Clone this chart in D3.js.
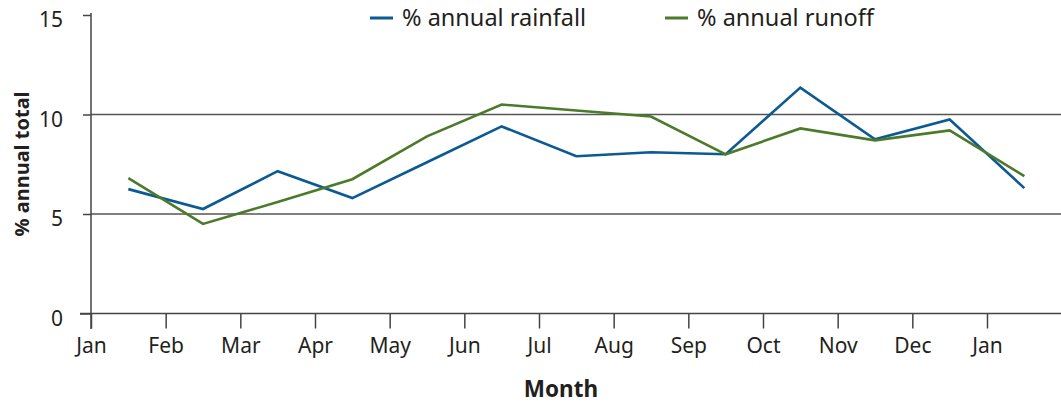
<!DOCTYPE html>
<html>
<head>
<meta charset="utf-8">
<script src="https://cdn.jsdelivr.net/npm/d3@7"></script>
<style>
  body { margin: 0; background: #fff; }
  text { font-family: "Noto Sans", sans-serif; fill: #231f20; }
</style>
</head>
<body>
<svg id="chart" width="1061" height="403"></svg>
<script>
// month tick labels (13 boundaries, Jan..Jan)
var months = ["Jan", "Feb", "Mar", "Apr", "May", "Jun", "Jul", "Aug", "Sep", "Oct", "Nov", "Dec", "Jan"];

// values plotted at the middle of each month
var rainfall = [6.25, 5.25, 7.15, 5.8, 7.6, 9.4, 7.9, 8.1, 8.0, 11.35, 8.75, 9.75, 6.3];
var runoff = [6.8, 4.5, 5.6, 6.75, 8.9, 10.5, 10.2, 9.9, 8.0, 9.3, 8.7, 9.2, 6.9];

var yTicks = [0, 5, 10, 15];
var gridValues = [5, 10];

var series = [
    { name: "% annual rainfall", values: rainfall, color: "#0b5a92" },
    { name: "% annual runoff", values: runoff, color: "#4b7a2b" }
];

var svg = d3.select("#chart");

var x = d3.scaleLinear().domain([0, 12]).range([91, 987]);
var y = d3.scaleLinear().domain([0, 15]).range([313.5, 15]);

// gridlines
svg.append("g").selectAll("line")
    .data(gridValues)
    .enter().append("line")
    .attr("x1", 91).attr("x2", 1061)
    .attr("y1", function(d) { return y(d); })
    .attr("y2", function(d) { return y(d); })
    .attr("stroke", "#555")
    .attr("stroke-width", 1.5);

// y axis
var yAxis = svg.append("g")
    .attr("transform", "translate(91,0)")
    .call(d3.axisLeft(y).tickValues(yTicks).tickSize(11).tickPadding(17));
yAxis.select(".domain").remove();
yAxis.append("line")
    .attr("x1", 0).attr("x2", 0)
    .attr("y1", 13).attr("y2", 329)
    .attr("stroke", "#444").attr("stroke-width", 1.5);
yAxis.selectAll(".tick line").attr("stroke", "#444").attr("stroke-width", 1.5);
yAxis.selectAll(".tick text")
    .attr("dy", "0.55em")
    .style("font-size", "21px")
    .style("font-family", "'Noto Sans', sans-serif")
    .attr("fill", "#231f20");
yAxis.selectAll(".tick").filter(function(d) { return d === 0; }).select("line").attr("x2", -11);
yAxis.selectAll(".tick").filter(function(d) { return d !== 0; }).select("line").attr("x2", -8);

// x axis
var xAxis = svg.append("g")
    .attr("transform", "translate(0," + y(0) + ")")
    .call(d3.axisBottom(x)
        .tickValues(d3.range(months.length))
        .tickFormat(function(d) { return months[d]; })
        .tickSize(15).tickPadding(10));
xAxis.select(".domain").remove();
xAxis.append("line")
    .attr("x1", 80).attr("x2", 1061)
    .attr("y1", 0).attr("y2", 0)
    .attr("stroke", "#444").attr("stroke-width", 1.5);
xAxis.selectAll(".tick line").attr("stroke", "#444").attr("stroke-width", 1.5);
xAxis.selectAll(".tick text")
    .style("font-size", "21px")
    .style("font-family", "'Noto Sans', sans-serif")
    .attr("fill", "#231f20");

// lines
var line = d3.line()
    .x(function(d, i) { return x(i + 0.5); })
    .y(function(d) { return y(d); });

svg.append("g").selectAll("path")
    .data(series)
    .enter().append("path")
    .attr("d", function(s) { return line(s.values); })
    .attr("fill", "none")
    .attr("stroke", function(s) { return s.color; })
    .attr("stroke-width", 2.6);

// legend
var legendX = [370, 665];
var legend = svg.append("g").selectAll("g")
    .data(series)
    .enter().append("g")
    .attr("transform", function(d, i) { return "translate(" + legendX[i] + ",18)"; });
legend.append("line")
    .attr("x1", 0).attr("x2", 23)
    .attr("stroke", function(d) { return d.color; })
    .attr("stroke-width", 3);
legend.append("text")
    .attr("x", 32).attr("y", 7.5)
    .style("font-size", "23.5px")
    .text(function(d) { return d.name; });

// axis titles
svg.append("text")
    .attr("x", 561).attr("y", 397)
    .attr("text-anchor", "middle")
    .style("font-size", "22.5px")
    .style("font-weight", "bold")
    .text("Month");

svg.append("text")
    .attr("transform", "translate(29,164) rotate(-90)")
    .attr("text-anchor", "middle")
    .style("font-size", "20px")
    .style("font-weight", "bold")
    .text("% annual total");
</script>
</body>
</html>
